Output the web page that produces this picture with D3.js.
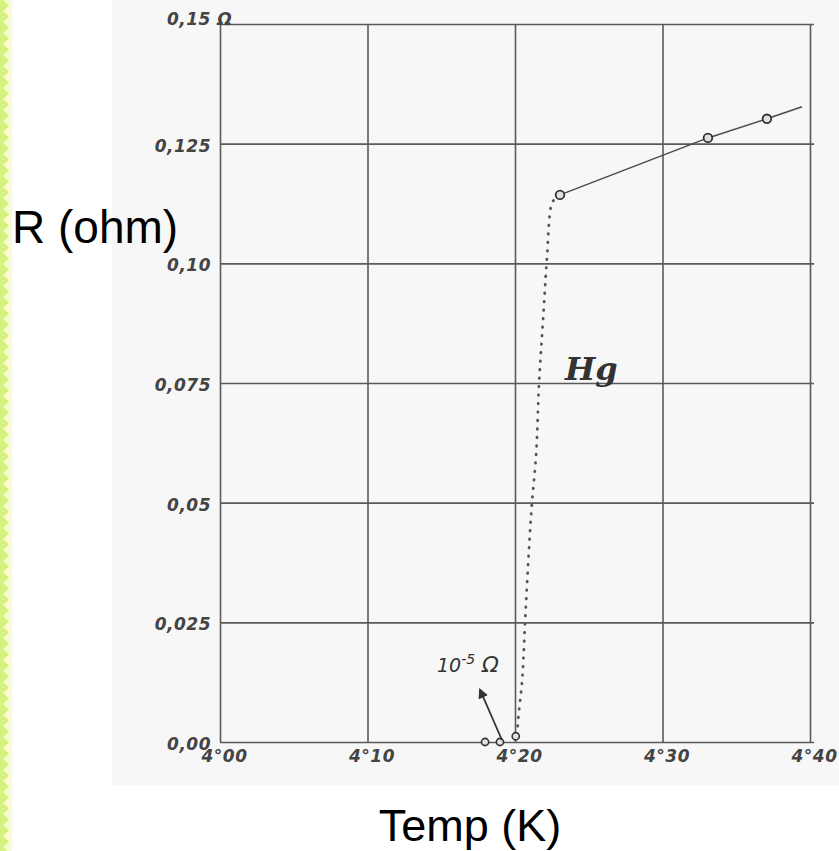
<!DOCTYPE html>
<html>
<head>
<meta charset="utf-8">
<script src="https://cdn.jsdelivr.net/npm/d3@7/dist/d3.min.js"></script>
<style>
  html, body { margin: 0; padding: 0; background: #ffffff; }
  svg { display: block; }
</style>
</head>
<body>
<svg id="chart" width="839" height="851"></svg>
<script>
// ---- data ----
const tempTicks = [4.00, 4.10, 4.20, 4.30, 4.40];
const tempTickLabels = ["4°00", "4°10", "4°20", "4°30", "4°40"];
const rTicks = [0, 0.025, 0.05, 0.075, 0.10, 0.125, 0.15];
const rTickLabels = ["0,00", "0,025", "0,05", "0,075", "0,10", "0,125", "0,15 Ω"];

// measured points (normal state)
const measuredTemp = [4.2305, 4.3308, 4.3708];
const measuredR = [0.1143, 0.1262, 0.1302];
// solid trend line
const lineTemp = [4.2305, 4.3308, 4.3708, 4.3946];
const lineR = [0.1143, 0.1262, 0.1302, 0.1327];
// dotted transition
const dropTemp = [4.2305, 4.2244, 4.2217, 4.2190, 4.2163, 4.2142, 4.2115, 4.2088, 4.2068, 4.2047, 4.2020, 4.2014];
const dropR = [0.1143, 0.1122, 0.1013, 0.0882, 0.0750, 0.0595, 0.0499, 0.0366, 0.0249, 0.0123, 0.0040, 0.0004];
// superconducting points
const lowTemp = [4.1797, 4.1898, 4.2005];
const lowR = [0.0, 0.0, 0.0012];

// annotations (data units)
const arrowFromT = 4.1912, arrowFromR = 0.0004;
const arrowToT = 4.1763, arrowToR = 0.0109;
const noteT = 4.1471, noteR = 0.0146;
const hgT = 4.2339, hgR = 0.0756;

// ---- layout ----
const svg = d3.select("#chart");
const W = 839, H = 851;
const x = d3.scaleLinear().domain([4.0, 4.4]).range([220, 810]);
const y = d3.scaleLinear().domain([0, 0.15]).range([742, 24]);

// left zigzag strip
const stripW = 12;
svg.append("rect").attr("x", 0).attr("y", 0).attr("width", stripW).attr("height", H).attr("fill", "#fafbd2");
const period = 11;
const zz = [[0, -period]];
for (let yy = -period; yy <= H + period; yy += period) {
  zz.push([9, yy + period / 2]);
  zz.push([3, yy + period]);
}
zz.push([0, H + period]);
svg.append("path")
  .attr("d", "M" + zz.map(p => p.join(",")).join("L") + "Z")
  .attr("fill", "#d3f37e");

// paper background
svg.append("rect").attr("x", 112).attr("y", 0).attr("width", W - 112).attr("height", 785)
  .attr("fill", "#f7f7f7");

const gridColor = "#5a5a5a";
const handFont = "'DejaVu Sans', sans-serif";

// grid vertical
const gx = svg.append("g").attr("transform", `translate(0,${y(0)})`)
  .call(d3.axisBottom(x).tickValues(tempTicks).tickSize(-(y(0) - y(0.15))).tickFormat((d, i) => tempTickLabels[i]).tickPadding(8));
gx.select(".domain").remove();
gx.selectAll(".tick line").attr("stroke", gridColor).attr("stroke-width", 1.6);
gx.selectAll(".tick text")
  .attr("font-family", handFont).attr("font-style", "italic").attr("font-size", 17).attr("font-weight", "bold")
  .attr("letter-spacing", 0.5).attr("fill", "#444").attr("dx", 4);

// grid horizontal
const gy = svg.append("g").attr("transform", `translate(${x(4.0)},0)`)
  .call(d3.axisLeft(y).tickValues(rTicks).tickSize(-(x(4.4) - x(4.0) + 4)).tickFormat((d, i) => rTickLabels[i]).tickPadding(9));
gy.select(".domain").remove();
gy.selectAll(".tick line").attr("stroke", gridColor).attr("stroke-width", 1.6);
gy.selectAll(".tick text")
  .attr("font-family", handFont).attr("font-style", "italic").attr("font-size", 17).attr("font-weight", "bold")
  .attr("letter-spacing", 0.5).attr("fill", "#444").attr("dy", "0.45em");
// top label sits at the corner, extends over the axis
gy.selectAll(".tick text").filter((d, i) => i === rTicks.length - 1)
  .attr("text-anchor", "start").attr("x", -53).attr("dy", "0.05em");

// solid line
const line = d3.line().x(d => x(d[0])).y(d => y(d[1]));
svg.append("path")
  .datum(lineTemp.map((t, i) => [t, lineR[i]]))
  .attr("d", line).attr("fill", "none").attr("stroke", "#4a4a4a").attr("stroke-width", 1.5);

// dotted transition
svg.append("path")
  .datum(dropTemp.map((t, i) => [t, dropR[i]]))
  .attr("d", d3.line().x(d => x(d[0])).y(d => y(d[1])).curve(d3.curveMonotoneY))
  .attr("fill", "none").attr("stroke", "#555").attr("stroke-width", 2.8)
  .attr("stroke-dasharray", "0.5,8").attr("stroke-linecap", "round");

// markers
svg.append("g").selectAll("circle")
  .data(measuredTemp.map((t, i) => [t, measuredR[i]]))
  .join("circle")
  .attr("cx", d => x(d[0])).attr("cy", d => y(d[1])).attr("r", 4.3)
  .attr("fill", "#e0e0e0").attr("stroke", "#333").attr("stroke-width", 1.8);

svg.append("g").selectAll("circle")
  .data(lowTemp.map((t, i) => [t, lowR[i]]))
  .join("circle")
  .attr("cx", d => x(d[0])).attr("cy", d => y(d[1])).attr("r", 3.6)
  .attr("fill", "#e0e0e0").attr("stroke", "#333").attr("stroke-width", 1.6);

// arrow
svg.append("defs").append("marker")
  .attr("id", "ah").attr("viewBox", "0 0 10 10").attr("refX", 8).attr("refY", 5)
  .attr("markerWidth", 6).attr("markerHeight", 6).attr("orient", "auto")
  .append("path").attr("d", "M0,0L10,5L0,10Z").attr("fill", "#333");
svg.append("line")
  .attr("x1", x(arrowFromT)).attr("y1", y(arrowFromR))
  .attr("x2", x(arrowToT)).attr("y2", y(arrowToR))
  .attr("stroke", "#333").attr("stroke-width", 1.7).attr("marker-end", "url(#ah)");

// 10^-5 Ω note
const note = svg.append("text")
  .attr("x", x(noteT)).attr("y", y(noteR))
  .attr("font-family", handFont).attr("font-style", "italic").attr("font-size", 19).attr("fill", "#333");
note.append("tspan").text("10");
note.append("tspan").attr("dy", -8).attr("font-size", 14).text("-5");
note.append("tspan").attr("dy", 8).attr("font-size", 22).text(" Ω");

// Hg label
svg.append("text")
  .attr("x", x(hgT)).attr("y", y(hgR))
  .attr("font-family", "'DejaVu Serif', serif").attr("font-style", "italic").attr("font-weight", "bold")
  .attr("font-size", 32).attr("fill", "#333").text("Hg");

// axis titles
svg.append("text").attr("x", 12).attr("y", 243)
  .attr("font-family", "'Liberation Sans', Arial, sans-serif").attr("font-size", 46).attr("fill", "#000")
  .text("R (ohm)");
svg.append("text").attr("x", 470).attr("y", 841).attr("text-anchor", "middle")
  .attr("font-family", "'Liberation Sans', Arial, sans-serif").attr("font-size", 45).attr("fill", "#000")
  .text("Temp (K)");
</script>
</body>
</html>
